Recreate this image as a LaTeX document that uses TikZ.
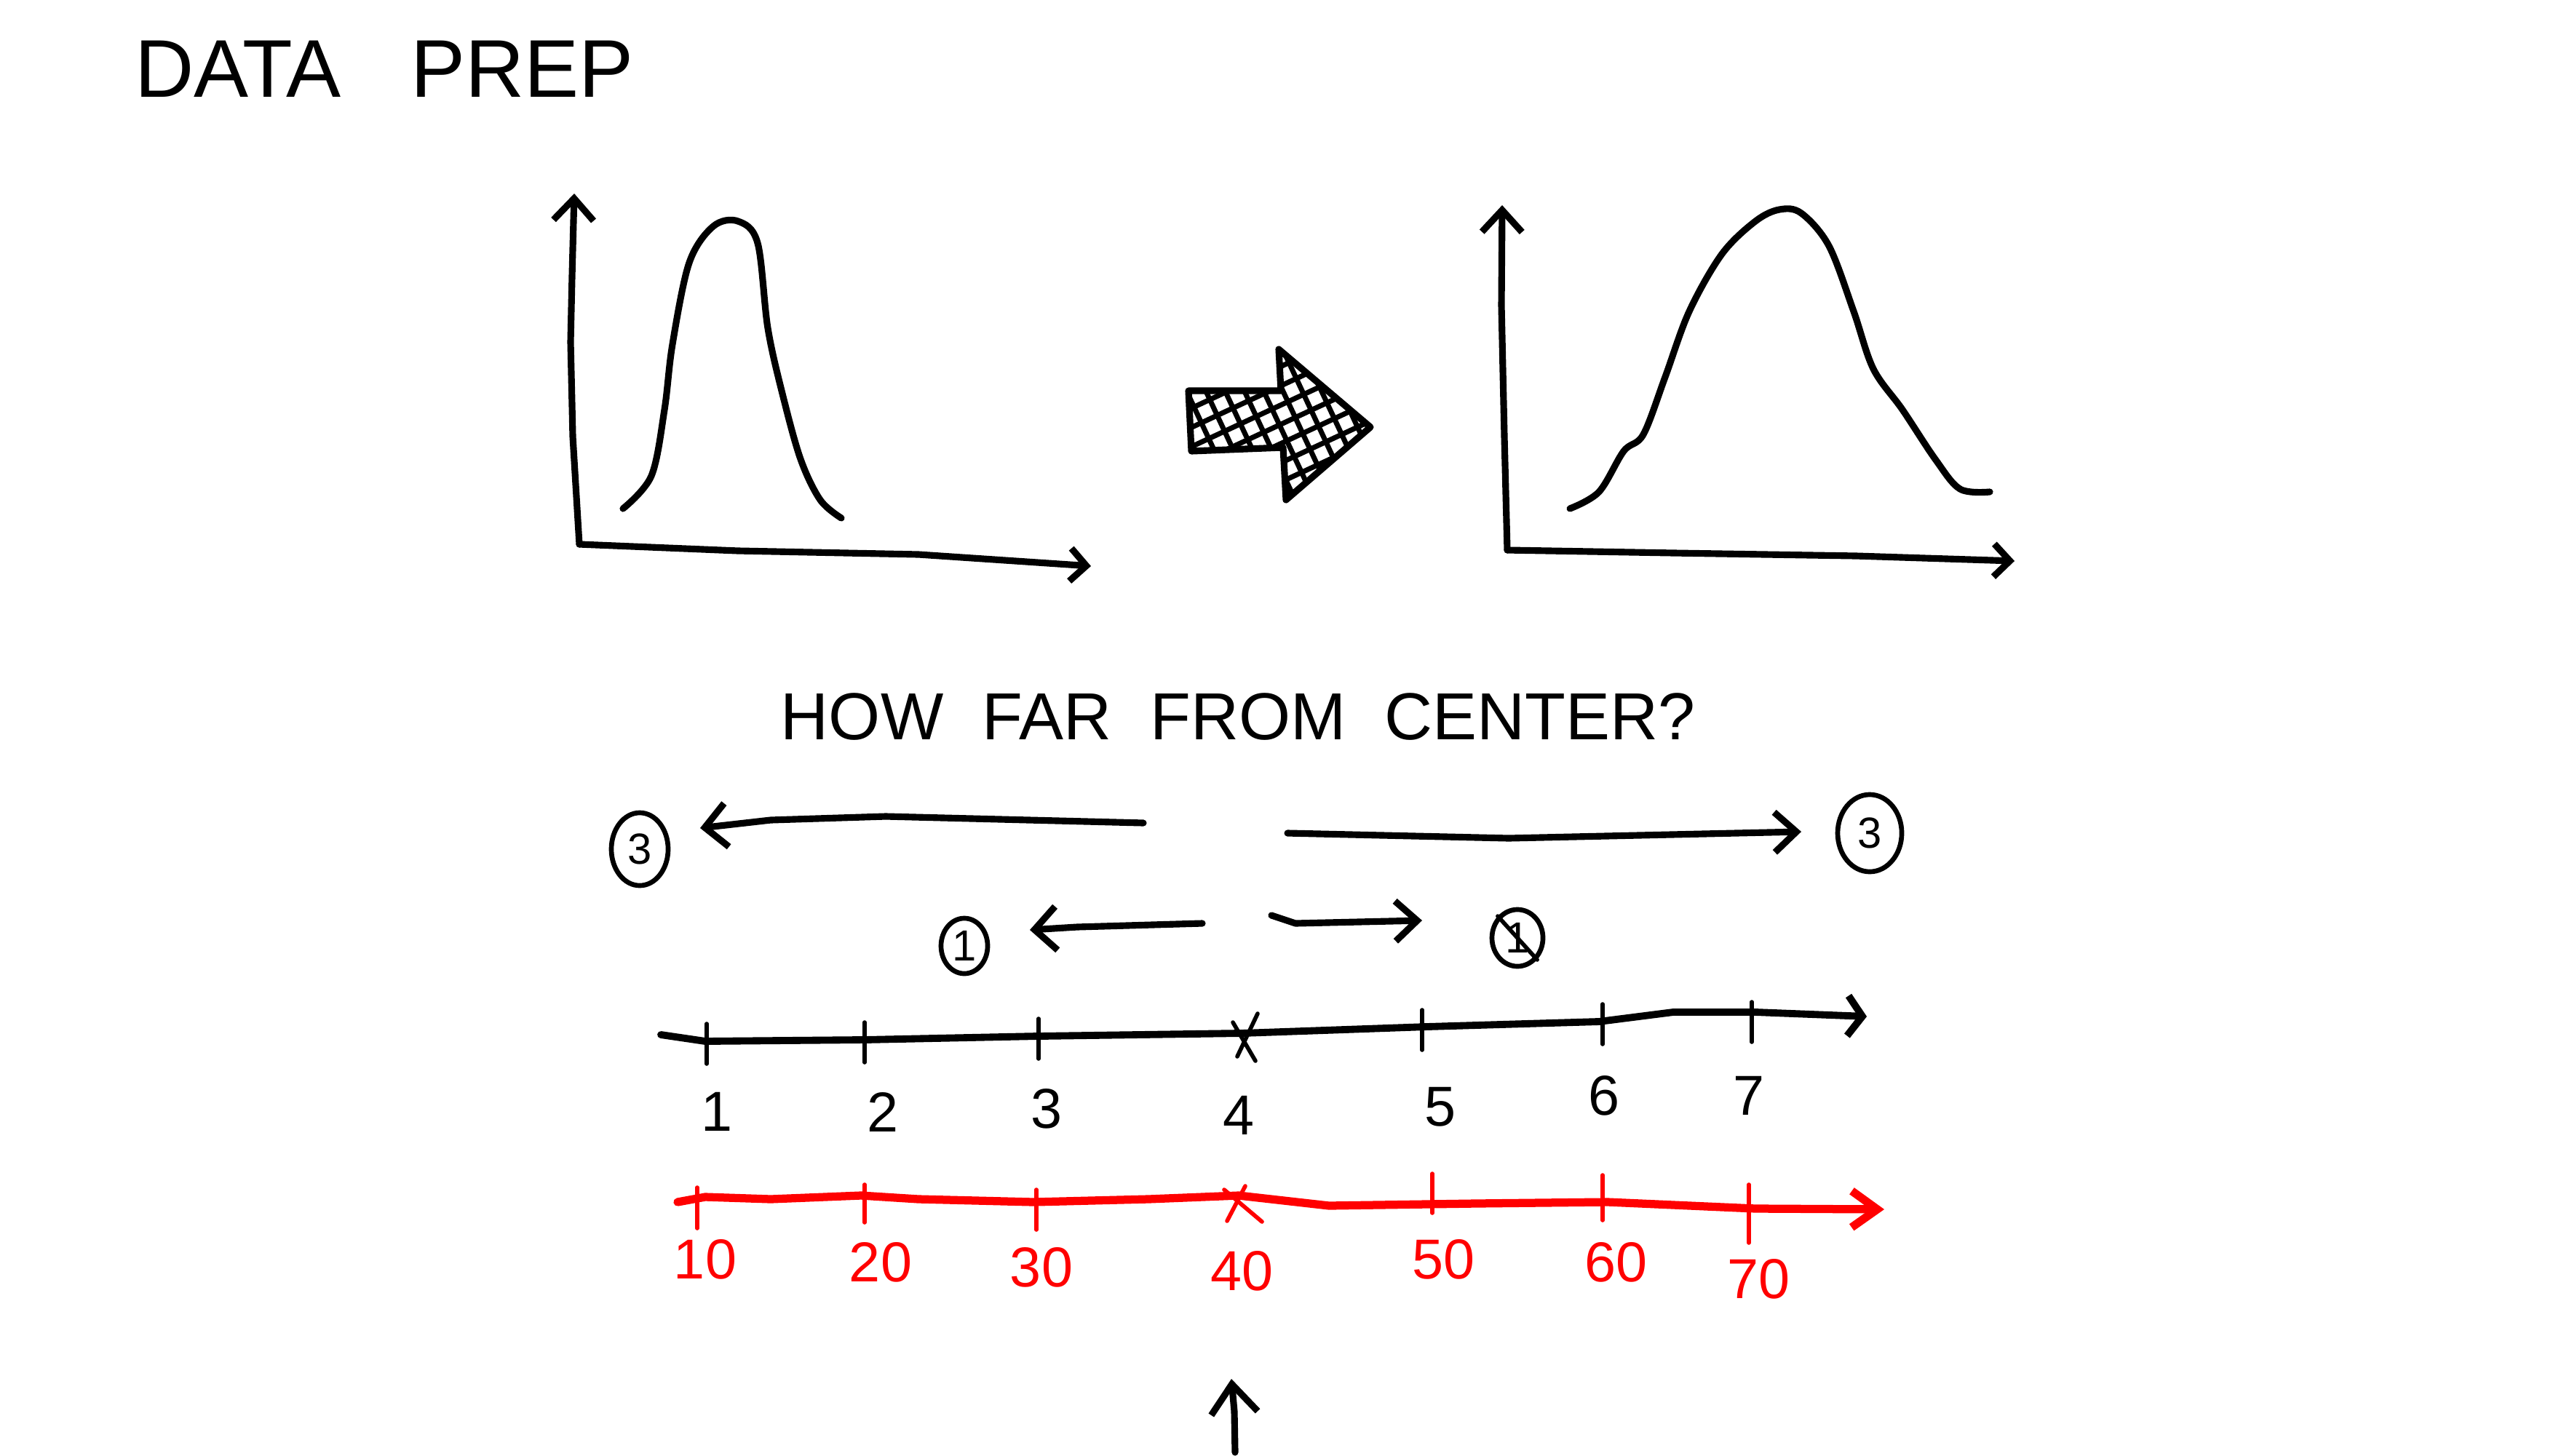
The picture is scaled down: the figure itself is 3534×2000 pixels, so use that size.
\documentclass[tikz,border=0pt]{standalone}
\usepackage{fontspec}
\setmainfont{Liberation Sans}
\usetikzlibrary{arrows.meta,shapes.geometric}
\begin{document}
\begin{tikzpicture}[x=0.01cm,y=-0.01cm,
  ink/.style={line width=2.6pt,line cap=round,line join=round},
  thinink/.style={line width=1.6pt,line cap=round,line join=round},
  barb/.style={-{Straight Barb[length=3mm,width=5.5mm]}},
  smallbarb/.style={-{Straight Barb[length=2.2mm,width=4.5mm]}},
  lbarb/.style={{Straight Barb[length=3mm,width=6mm]}-},
  redink/.style={line width=3.2pt,line cap=round,line join=round,draw=red},
  numlab/.style={font=\fontsize{22}{26}\selectfont,inner sep=0pt},
  redlab/.style={font=\fontsize{22}{26}\selectfont,inner sep=0pt,text=red},
  circnum/.style={draw,ellipse,line width=1.9pt,inner sep=0pt,font=\fontsize{17}{20}\selectfont},
  tickmark/.style={thinink}]
\useasboundingbox[fill=white] (0,0) rectangle (3534,2000);

% ---------- title
\node[font=\fontsize{32}{38}\selectfont,inner sep=0pt] (title) at (528,95) {\spaceskip=0.85em DATA PREP};

% ---------- left graph
\coordinate (lo) at (796,748);
\coordinate (ly) at (789,266);
\coordinate (lx) at (1499,778);
\draw[ink,barb] (lo) -- (787,600) -- (784,470) -- (786,380) -- (ly);
\draw[ink,smallbarb] (lo) -- (1014,757) -- (1262,762) -- (lx);
\draw[ink] plot[smooth,tension=0.55] coordinates {(856,699) (895,654) (913,563) (924,473) (947,361) (980,311) (1014,304) (1041,334) (1055,451) (1075,541) (1100,631) (1127,687) (1156,712)};

% ---------- right graph
\coordinate (ro) at (2071,756);
\coordinate (ry) at (2064,282);
\coordinate (rx) at (2768,771);
\draw[ink,barb] (ro) -- (2067,600) -- (2063,420) -- (ry);
\draw[ink,smallbarb] (ro) -- (2300,760) -- (2550,764) -- (rx);
\draw[ink] plot[smooth,tension=0.55] coordinates {(2157,699) (2197,676) (2231,620) (2258,597) (2288,518) (2321,428) (2366,349) (2412,304) (2445,288) (2475,293) (2513,338) (2547,428) (2574,507) (2614,563) (2659,631) (2693,672) (2734,676)};

% ---------- hatched arrow
\begin{scope}
  \clip (1633,537) -- (1760,537) -- (1757,480) -- (1883,587) -- (1767,687) -- (1763,615) -- (1637,620) -- cycle;
  \begin{scope}[shift={(1758,584)},rotate=25]
    \foreach \i in {-9,...,9} \draw[line width=2pt] (\i*24,-250) -- (\i*24,250);
  \end{scope}
  \begin{scope}[shift={(1758,584)},rotate=-65]
    \foreach \i in {-9,...,9} \draw[line width=2pt] (\i*24,-250) -- (\i*24,250);
  \end{scope}
\end{scope}
\draw[ink] (1633,537) -- (1760,537) -- (1757,480) -- (1883,587) -- (1767,687) -- (1763,615) -- (1637,620) -- cycle;

% ---------- question
\node[font=\fontsize{26}{31}\selectfont,inner sep=0pt] (question) at (1701,985) {\spaceskip=0.58em HOW FAR FROM CENTER?};

% ---------- distance arrows
\node[circnum,minimum width=0.78cm,minimum height=1.0cm] (c3l) at (879,1167) {3};
\node[circnum,minimum width=0.88cm,minimum height=1.06cm] (c3r) at (2569,1145) {3};
\node[circnum,minimum width=0.64cm,minimum height=0.76cm] (c1l) at (1325,1300) {1};
\node[circnum,minimum width=0.70cm,minimum height=0.78cm] (c1r) at (2085,1289) {1};
\draw[thinink] (c1r.north west) -- (c1r.south east);

\coordinate (bl) at (1571,1131);
\coordinate (br) at (1769,1145);
\coordinate (sl) at (1652,1269);
\coordinate (sr) at (1747,1258);
\draw[ink,lbarb] (962,1138) -- (1059,1127) -- (1217,1122) -- (bl);
\draw[ink,barb] (br) -- (2073,1152) -- (2475,1143);
\draw[ink,lbarb] (1415,1278) -- (1480,1274) -- (sl);
\draw[ink,barb] (sr) -- (1780,1269) -- (1954,1265);

% ---------- black number line
\coordinate (ns) at (908,1422);
\coordinate (ne) at (2565,1397);
\draw[line width=2.8pt,line cap=round,line join=round,-{Straight Barb[length=2mm,width=5.5mm]}] (ns) -- (969,1431) -- (1188,1429) -- (1427,1424) -- (1706,1420) -- (1961,1411) -- (2197,1404) -- (2299,1391) -- (2412,1391) -- (ne);
\foreach \x/\y in {971/1407, 1188/1405, 1427/1400, 1954/1388, 2202/1380, 2407/1377}
  \draw[tickmark] (\x,\y) -- (\x,\y+55);
\draw[tickmark] (1728,1393) -- (1700,1452);
\draw[tickmark] (1694,1405) -- (1725,1458);

\node[numlab] (n1) at (985,1528) {1};
\node[numlab] (n2) at (1213,1528) {2};
\node[numlab] (n3) at (1438,1524) {3};
\node[numlab] (n4) at (1702,1533) {4};
\node[numlab] (n5) at (1979,1521) {5};
\node[numlab] (n6) at (2204,1506) {6};
\node[numlab] (n7) at (2403,1506) {7};

% ---------- red number line
\coordinate (rs) at (931,1652);
\coordinate (re) at (2589,1662);
\draw[redink,-{Straight Barb[length=3.5mm,width=5mm]}] (rs) -- (969,1645) -- (1059,1648) -- (1183,1643) -- (1262,1648) -- (1420,1652) -- (1578,1648) -- (1702,1643) -- (1826,1657) -- (2028,1654) -- (2209,1652) -- (2412,1661) -- (re);
\foreach \x/\ya/\yb in {958/1632/1688, 1188/1628/1680, 1424/1635/1690, 1968/1613/1667, 2202/1615/1677, 2403/1628/1708}
  \draw[thinink,draw=red] (\x,\ya) -- (\x,\yb);
\draw[thinink,draw=red] (1711,1630) -- (1686,1678);
\draw[thinink,draw=red] (1682,1635) -- (1734,1679);

\node[redlab] (r10) at (969,1731) {10};
\node[redlab] (r20) at (1210,1735) {20};
\node[redlab] (r30) at (1431,1742) {30};
\node[redlab] (r40) at (1706,1747) {40};
\node[redlab] (r50) at (1983,1731) {50};
\node[redlab] (r60) at (2220,1735) {60};
\node[redlab] (r70) at (2416,1758) {70};

% ---------- bottom pointer
\coordinate (ptail) at (1697,1996);
\coordinate (phead) at (1692,1895);
\draw[ink,-{Straight Barb[length=4mm,width=6.4mm]}] (ptail) -- (1696,1940) -- (phead);

\end{tikzpicture}
\end{document}
